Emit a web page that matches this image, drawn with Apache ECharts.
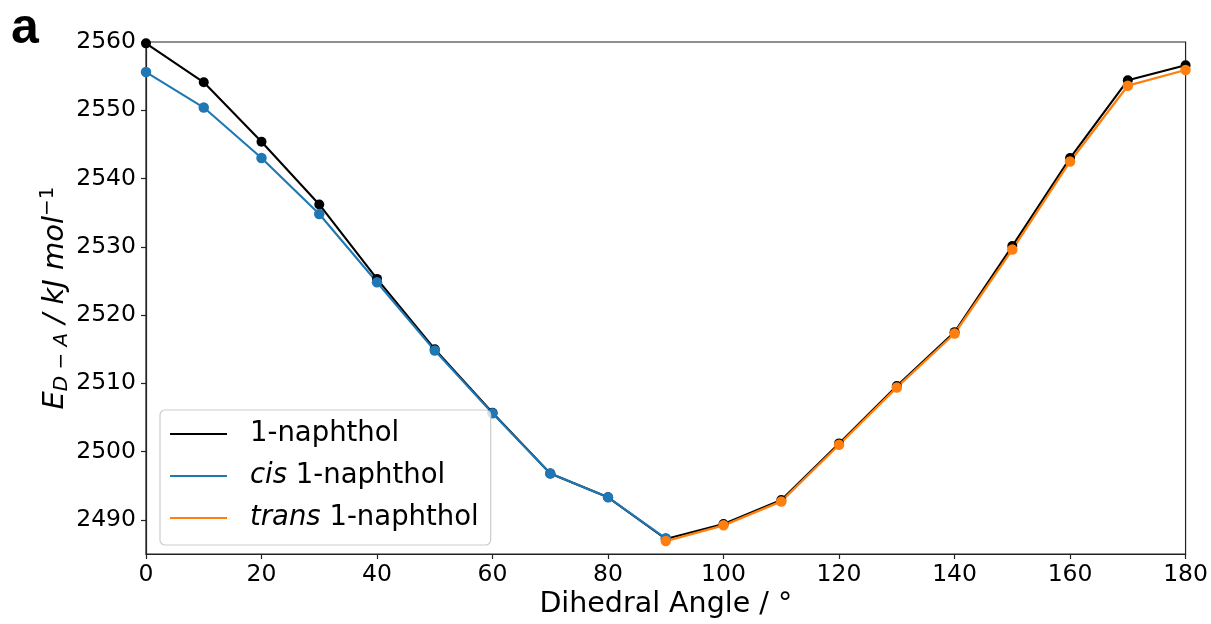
<!DOCTYPE html>
<html>
<head>
<meta charset="utf-8">
<script src="https://cdn.jsdelivr.net/npm/echarts@6/dist/echarts.min.js"></script>
<style>html,body{margin:0;padding:0;background:#fff}#c{width:1211px;height:624px}</style>
</head>
<body>
<div id="c"></div>
<script>
const angles = [0,10,20,30,40,50,60,70,80,90,100,110,120,130,140,150,160,170,180];
const naphthol = [2559.8,2554.1,2545.4,2536.2,2525.3,2515.0,2505.7,2496.8,2493.3,2487.2,2489.4,2492.9,2501.2,2509.6,2517.5,2530.1,2543.0,2554.4,2556.6];
const cisNaphthol = [2555.6,2550.4,2543.0,2534.8,2524.8,2514.8,2505.6,2496.8,2493.3,2487.3,null,null,null,null,null,null,null,null,null];
const transNaphthol = [null,null,null,null,null,null,null,null,null,2486.9,2489.2,2492.7,2501.0,2509.4,2517.3,2529.6,2542.5,2553.6,2555.9];
const xTicks = [0,20,40,60,80,100,120,140,160,180];
const yTicks = [2490,2500,2510,2520,2530,2540,2550,2560];
const seriesNames = ['1-naphthol','cis 1-naphthol','trans 1-naphthol'];

const FONT = 'DejaVu Sans';
const pair = arr => angles.map((a,i)=>[a, arr[i]]);

const chart = echarts.init(document.getElementById('c'), null, {renderer:'canvas'});
chart.setOption({
  animation:false,
  backgroundColor:'#fff',
  textStyle:{fontFamily:FONT},
  grid:{left:146,right:24,top:42,bottom:68,show:true,borderColor:'#222',borderWidth:1.2,backgroundColor:'transparent'},
  graphic:[{type:'text',left:11,top:4,style:{text:'a',font:'bold 50px "Liberation Sans"',fill:'#000'}}],
  legend:{
    orient:'vertical',left:160,top:410,
    padding:[9,12,12,10],
    itemWidth:57,itemHeight:2.2,itemGap:12,
    icon:'rect',
    borderColor:'#cccccc',borderWidth:1.2,borderRadius:5,backgroundColor:'rgba(255,255,255,0.8)',
    data:seriesNames,
    formatter:function(n){
      if(n==='cis 1-naphthol') return '{i|cis} 1-naphthol';
      if(n==='trans 1-naphthol') return '{i|trans} 1-naphthol';
      return n;
    },
    textStyle:{fontFamily:FONT,fontSize:27.5,color:'#000',lineHeight:30,padding:[0,0,0,18],
      rich:{i:{fontFamily:FONT,fontStyle:'italic',fontSize:27.5,color:'#000',lineHeight:30}}}
  },
  xAxis:{
    type:'value',min:0,max:180,interval:20,
    name:'Dihedral Angle / °',nameLocation:'middle',nameGap:36,nameMoveOverlap:false,
    nameTextStyle:{fontFamily:FONT,fontSize:28.5,color:'#000'},
    axisLine:{show:true,lineStyle:{color:'#222',width:1.2}},
    axisTick:{show:true,inside:false,length:5,lineStyle:{color:'#222',width:1.2},customValues:xTicks},
    axisLabel:{fontFamily:FONT,fontSize:23.5,color:'#000',margin:9,customValues:xTicks,formatter:v=>String(v)},
    splitLine:{show:false}
  },
  yAxis:{
    type:'value',min:2485,max:2560,
    name:'{e|E}{sub|D − A}{e| / kJ mol}{sup|−1}',nameLocation:'middle',nameRotate:90,nameGap:74,nameMoveOverlap:false,
    nameTextStyle:{fontFamily:FONT,color:'#000',
      rich:{
        e:{fontFamily:FONT,fontStyle:'italic',fontSize:29,color:'#000',lineHeight:34,verticalAlign:'middle'},
        sub:{fontFamily:FONT,fontStyle:'italic',fontSize:20,color:'#000',lineHeight:34,verticalAlign:'bottom'},
        sup:{fontFamily:FONT,fontSize:20,color:'#000',lineHeight:34,verticalAlign:'top'}
      }},
    axisLine:{show:true,lineStyle:{color:'#222',width:1.2}},
    axisTick:{show:true,inside:false,length:5,lineStyle:{color:'#222',width:1.2},customValues:yTicks},
    axisLabel:{fontFamily:FONT,fontSize:23.5,color:'#000',margin:10,customValues:yTicks,formatter:v=>String(v)},
    splitLine:{show:false}
  },
  series:[
    {name:seriesNames[0],type:'line',data:pair(naphthol),color:'#000000',symbol:'circle',symbolSize:10,
      lineStyle:{width:2.1,color:'#000000'},itemStyle:{color:'#000000'},connectNulls:false,clip:true},
    {name:seriesNames[1],type:'line',data:pair(cisNaphthol),color:'#1f77b4',symbol:'circle',symbolSize:10.5,
      lineStyle:{width:2.1,color:'#1f77b4'},itemStyle:{color:'#1f77b4'},connectNulls:false,clip:true},
    {name:seriesNames[2],type:'line',data:pair(transNaphthol),color:'#ff7f0e',symbol:'circle',symbolSize:10.5,
      lineStyle:{width:2.3,color:'#ff7f0e'},itemStyle:{color:'#ff7f0e'},connectNulls:false,clip:true}
  ]
});
</script>
</body>
</html>
